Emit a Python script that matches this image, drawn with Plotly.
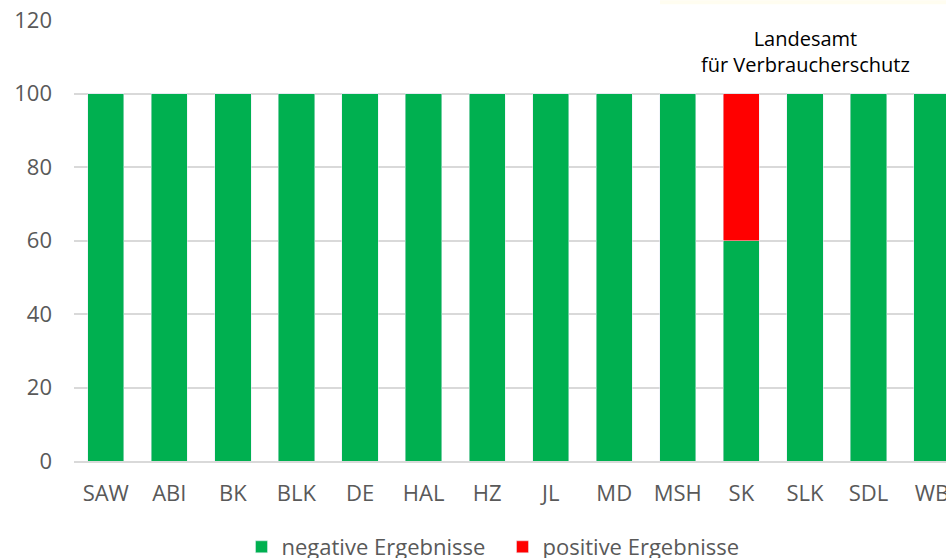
import plotly.graph_objects as go

categories = ["SAW", "ABI", "BK", "BLK", "DE", "HAL", "HZ", "JL", "MD", "MSH", "SK", "SLK", "SDL", "WB"]
negative = [100, 100, 100, 100, 100, 100, 100, 100, 100, 100, 60, 100, 100, 100]
positive = [0, 0, 0, 0, 0, 0, 0, 0, 0, 0, 40, 0, 0, 0]
y_ticks = [0, 20, 40, 60, 80, 100, 120]

FONT = "Open Sans"
GRAY = "#595959"

W, H = 946, 568
ML, MR, MT, MB = 74, 0, 20, 99
PW, PH = W - ML - MR, H - MT - MB

fig = go.Figure()
fig.add_trace(go.Bar(x=categories, y=negative, name="negative Ergebnisse", marker_color="#00B050"))
fig.add_trace(go.Bar(x=categories, y=positive, name="positive Ergebnisse", marker_color="#FF0000"))

fig.update_layout(
    width=W, height=H,
    barmode="stack", bargap=0.43,
    margin=dict(l=ML, r=MR, t=MT, b=MB),
    paper_bgcolor="white", plot_bgcolor="white",
    font=dict(family=FONT, color=GRAY, size=22),
    showlegend=True,
    legend=dict(orientation="h", x=(502.5 - ML) / PW, xanchor="center", y=-0.195, yanchor="middle",
                font=dict(size=22, color=GRAY), itemwidth=30, traceorder="normal",
                entrywidth=216, entrywidthmode="pixels"),
    xaxis=dict(range=[-0.5, 13.22], showgrid=False, showline=True, linecolor="#d9d9d9", linewidth=1.5,
               ticks="", tickfont=dict(size=22, color=GRAY), ticklabelstandoff=12, automargin=False),
    yaxis=dict(range=[0, 120], tickvals=y_ticks, showgrid=True, gridcolor="#d9d9d9", gridwidth=1.5,
               zeroline=False, showline=False, ticks="", tickfont=dict(size=22, color=GRAY),
               ticklabelstandoff=21, automargin=False),
)
fig.add_shape(type="rect", xref="paper", yref="paper",
              x0=(660 - ML) / PW, x1=1.0, y0=1 + (MT - 4) / PH, y1=1 + MT / PH,
              fillcolor="#fffdf0", line_width=0, layer="below")
fig.add_annotation(text="Landesamt<br>für Verbraucherschutz", xref="paper", yref="paper",
                   x=(805 - ML) / PW, y=(461 - 51) / 441, xanchor="center", yanchor="middle",
                   showarrow=False, font=dict(family=FONT, size=20, color="black"))
fig.write_html(
    "out.html",
    config={"displayModeBar": False},
    post_script=(
        "document.body.style.margin='0';"
        "document.documentElement.style.margin='0';"
        "document.documentElement.style.overflow='hidden';"
        "document.body.style.overflow='hidden';"
    ),
)
